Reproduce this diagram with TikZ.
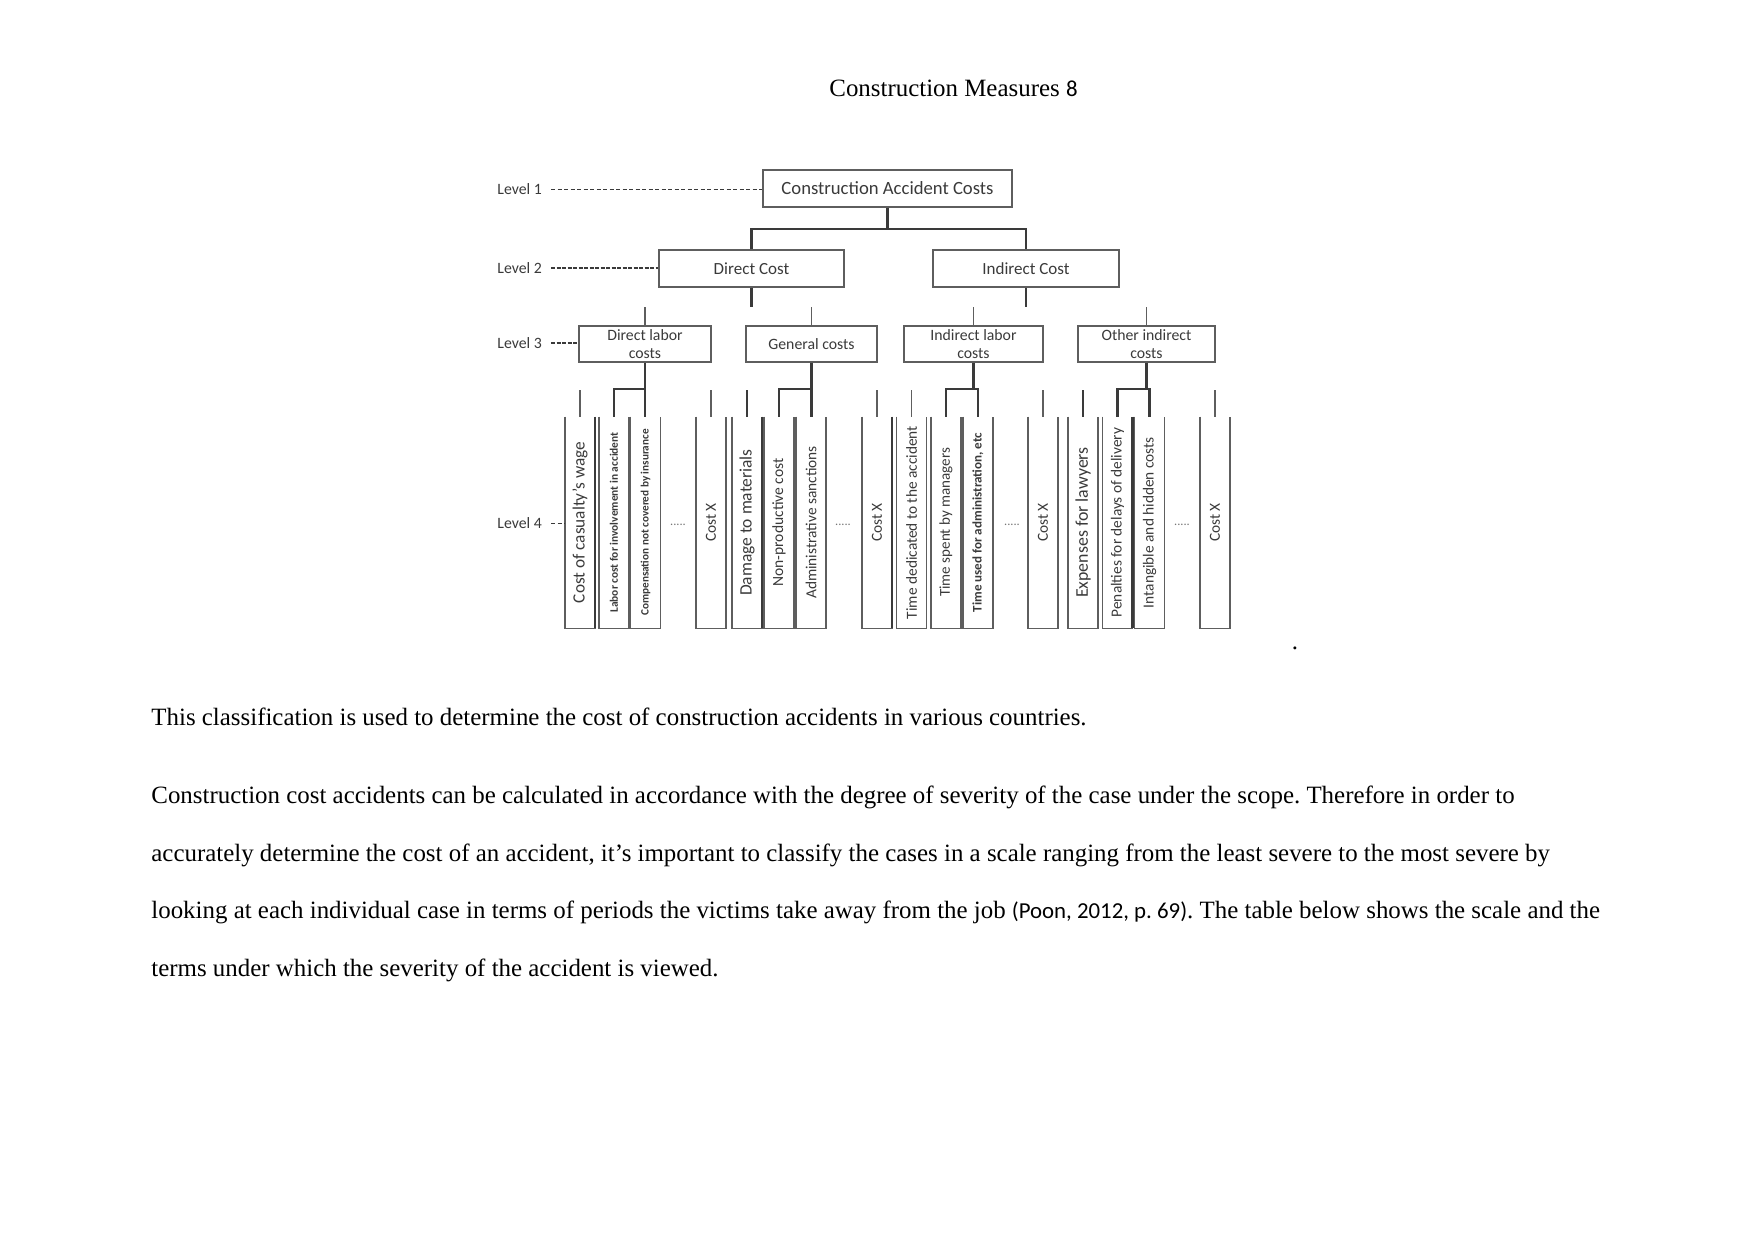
\documentclass[tikz,border=0pt]{standalone}
\usepackage{fontspec}
\usepackage{graphicx}
\setmainfont{Liberation Serif}
\newfontfamily\figfont{Carlito}
\frenchspacing
\newlength\px
\setlength\px{0.16933mm}
\newcommand{\vlabel}[2]{\rotatebox{90}{\fontsize{#1}{#1}\selectfont #2}}
\definecolor{ink}{HTML}{3A3A3A}
\definecolor{boxgray}{HTML}{5E5E5E}
\tikzset{
  lvl/.style={text=ink, font=\figfont\fontsize{7.6}{9}\selectfont, anchor=west, inner sep=0pt},
  box/.style={draw=boxgray, line width=1.4\px, text=ink, align=center, inner sep=0pt},
  leaf/.style={minimum width=29\px, minimum height=211\px, inner sep=0pt, text=ink, font=\figfont},
  link/.style={draw=ink, line width=2.8\px},
  stub/.style={draw=boxgray, line width=1.4\px},
  guide/.style={draw=ink, line width=1\px, dash pattern=on 4\px off 2.5\px},
  heavyguide/.style={draw=ink, line width=2\px, dash pattern=on 4\px off 1.5\px},
  dots/.style={text=ink!70, font=\figfont\fontsize{6}{6}\selectfont, inner sep=0pt},
  body/.style={anchor=base west, inner sep=0pt, font=\fontsize{12}{14}\selectfont},
}
\begin{document}
\begin{tikzpicture}[x=0.16933mm, y=-0.16933mm]
  \useasboundingbox (0,0) rectangle (1754,1241);

  % running head
  \node[body] (head) at (829,96) {Construction Measures {\figfont\fontsize{11}{13}\selectfont 8}};

  % levels 1 to 3
  \node[box, minimum width=249\px, minimum height=37\px, font=\figfont\fontsize{9}{10}\selectfont] (root) at (887.5,188.5) {Construction Accident Costs};
  \node[box, minimum width=185\px, minimum height=37\px, font=\figfont\fontsize{8.2}{10}\selectfont] (dc) at (751.5,268.5) {Direct Cost};
  \node[box, minimum width=186\px, minimum height=37\px, font=\figfont\fontsize{8.2}{10}\selectfont] (ic) at (1026,268.5) {Indirect Cost};
  \node[box, minimum width=132\px, minimum height=36\px, font=\figfont\fontsize{7.6}{8.7}\selectfont] (dl) at (645,344) {Direct labor\\costs};
  \node[box, minimum width=131\px, minimum height=36\px, font=\figfont\fontsize{7.6}{8.7}\selectfont] (gc) at (811.5,344) {General costs};
  \node[box, minimum width=139\px, minimum height=36\px, font=\figfont\fontsize{7.6}{8.7}\selectfont] (il) at (973.5,344) {Indirect labor\\costs};
  \node[box, minimum width=137\px, minimum height=36\px, font=\figfont\fontsize{7.6}{8.7}\selectfont] (oi) at (1146.5,344) {Other indirect\\costs};

  % level 4
  \node[leaf] (b1) at (580,522.5) {\vlabel{8.3}{Cost of casualty’s wage}};
  \node[leaf] (b2) at (614,522.5) {\vlabel{5.5}{\bfseries Labor cost for involvement in accident}};
  \node[leaf] (b3) at (645.5,522.5) {\vlabel{5.4}{\bfseries Compensation not covered by insurance}};
  \node[leaf] (b4) at (711,522.5) {\vlabel{7.4}{Cost X}};
  \node[leaf] (b5) at (747,522.5) {\vlabel{8.4}{Damage to materials}};
  \node[leaf] (b6) at (779,522.5) {\vlabel{7.5}{Non-productive cost}};
  \node[leaf] (b7) at (811,522.5) {\vlabel{7.4}{Administrative sanctions}};
  \node[leaf] (b8) at (877,522.5) {\vlabel{7.4}{Cost X}};
  \node[leaf] (b9) at (911.5,522.5) {\vlabel{7.4}{Time dedicated to the accident}};
  \node[leaf] (b10) at (946,522.5) {\vlabel{7.25}{Time spent by managers}};
  \node[leaf] (b11) at (978,522.5) {\vlabel{6.3}{\bfseries Time used for administration, etc}};
  \node[leaf] (b12) at (1043,522.5) {\vlabel{7.4}{Cost X}};
  \node[leaf] (b13) at (1083,522.5) {\vlabel{8.6}{Expenses for lawyers}};
  \node[leaf] (b14) at (1117.5,522.5) {\vlabel{7.4}{Penalties for delays of delivery}};
  \node[leaf] (b15) at (1149.5,522.5) {\vlabel{7.4}{Intangible and hidden costs}};
  \node[leaf] (b16) at (1215,522.5) {\vlabel{7.4}{Cost X}};
  \foreach \b in {b1,b2,b3,b4,b5,b6,b7,b8,b9,b10,b11,b12,b13,b14,b15,b16}
    \draw[boxgray, line width=1.2\px] (\b.north west) -- (\b.south west) -- (\b.south east) -- (\b.north east);
  \foreach \b in {b1,b5,b8,b14}
    \draw[ink, line width=2.6\px] (\b.north east) -- (\b.south east);
  \node[dots] (d1) at (678,525) {.....};
  \node[dots] (d2) at (843,525) {.....};
  \node[dots] (d3) at (1012,525) {.....};
  \node[dots] (d4) at (1182,525) {.....};

  % level labels
  \node[lvl] (lv1) at (497,189) {Level 1};
  \node[lvl] (lv2) at (497,268) {Level 2};
  \node[lvl] (lv3) at (497,343) {Level 3};
  \node[lvl] (lv4) at (497,523) {Level 4};
  \draw[guide] ([xshift=9\px]lv1.east) -- (lv1.east -| root.west);
  \draw[heavyguide] ([xshift=9\px]lv2.east) -- (lv2.east -| dc.west);
  \draw[heavyguide] ([xshift=9\px]lv3.east) -- (lv3.east -| dl.west);
  \draw[guide] ([xshift=9\px]lv4.east) -- (lv4.east -| b1.west);

  % connectors
  \coordinate (bus) at (0,229);
  \coordinate (gap) at (0,307);
  \coordinate (brk) at (0,389);
  \draw[link] (root.south) -- (root.south |- bus);
  \draw[link] (dc.north) |- (root.south |- bus) -| (ic.north);
  \draw[link] (dc.south) -- (dc.south |- gap);
  \draw[link] (ic.south) -- (ic.south |- gap);
  \foreach \n in {dl,gc,il,oi}
    \draw[stub] (\n.north) -- (\n.north |- gap);
  \draw[link] (dl.south) -- (dl.south |- b3.north);
  \draw[link] (b2.north) |- (dl.south |- brk);
  \draw[link] (gc.south) -- (gc.south |- b7.north);
  \draw[link] (b6.north) |- (gc.south |- brk);
  \draw[link] (il.south) |- (b11.north |- brk) -- (b11.north);
  \draw[link] (b10.north) |- (b11.north |- brk);
  \draw[link] (oi.south) |- (b15.north |- brk) -- (b15.north);
  \draw[link] (b14.north) |- (b15.north |- brk);
  \foreach \b in {b1,b4,b8,b9,b12,b16}
    \draw[stub, line width=1.8\px] (\b.north) -- ++(0,-27);
  \foreach \b in {b5,b13}
    \draw[link] (\b.north) -- ++(0,-27);

  \node[body, anchor=base] (stop) at (1295,649) {.};

  % text below the figure
  \node[body] (txta) at (151,725) {This classification is used to determine the cost of construction accidents in various countries.};
  \node[body] (txtb) at (151,803) {Construction cost accidents can be calculated in accordance with the degree of severity of the case under the scope. Therefore in order to};
  \node[body] (txtc) at (151,861) {accurately determine the cost of an accident, it’s important to classify the cases in a scale ranging from the least severe to the most severe by};
  \node[body] (txtd) at (151,918) {looking at each individual case in terms of periods the victims take away from the job {\figfont\fontsize{11}{13}\selectfont (Poon, 2012, p. 69)}. The table below shows the scale and the};
  \node[body] (txte) at (151,976) {terms under which the severity of the accident is viewed.};
\end{tikzpicture}
\end{document}
